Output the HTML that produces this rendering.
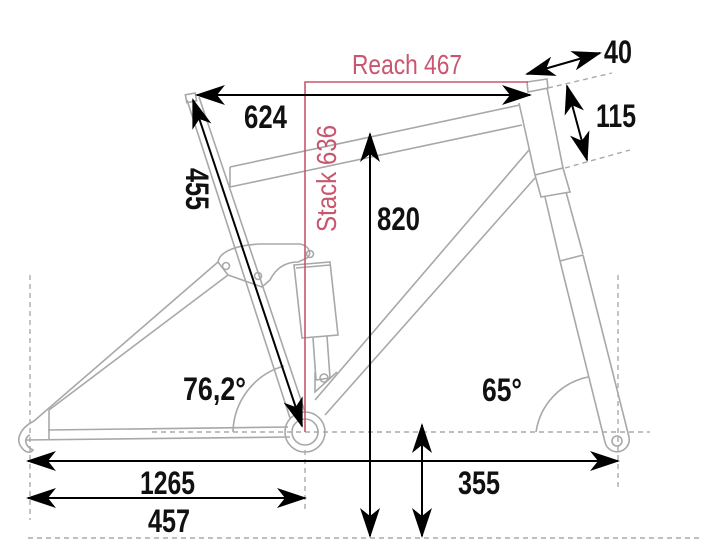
<!DOCTYPE html>
<html><head><meta charset="utf-8"><style>
html,body{margin:0;padding:0;background:#fff;width:712px;height:546px;overflow:hidden}
svg{display:block}
.f{fill:none;stroke:#a8a8a8;stroke-width:1.6}
.d{fill:none;stroke:#aaa;stroke-width:1.4;stroke-dasharray:5,4}
.a{stroke:#000;stroke-width:2;fill:none}
.t{font-family:"Liberation Sans",sans-serif;font-weight:bold;font-size:32px;fill:#111}
.r{font-family:"Liberation Sans",sans-serif;font-size:28px;fill:#c8566e}
</style></head><body>
<svg width="712" height="546" viewBox="0 0 712 546" xmlns="http://www.w3.org/2000/svg">
<defs>
<marker id="m" viewBox="0 0 30 20" refX="28" refY="10" markerWidth="30" markerHeight="20" markerUnits="userSpaceOnUse" orient="auto-start-reverse">
<path d="M0,0 L30,10 L0,20 L8,10 Z" fill="#000"/>
</marker>
</defs>
<line class="d" x1="30" y1="275" x2="30" y2="520"/>
<line class="d" x1="305" y1="450" x2="305" y2="510"/>
<line class="d" x1="618" y1="275" x2="618" y2="490"/>
<line class="d" x1="152" y1="432" x2="650" y2="432"/>
<line class="d" x1="28" y1="538" x2="700" y2="538"/>
<line class="d" x1="548" y1="88" x2="612" y2="73"/>
<line class="d" x1="565" y1="168" x2="630" y2="150"/>
<path class="f" d="M233,432 A70,70 0 0 1 284,366" stroke-width="1.2"/>
<path class="f" d="M536,432 A66,66 0 0 1 588,377" stroke-width="1.2"/>
<g class="f">
<line x1="48" y1="430" x2="288" y2="427"/>
<line x1="26" y1="440" x2="290" y2="437"/>
<line x1="49" y1="410" x2="49" y2="440"/>
<path d="M34,421 C20,428 15,440 22,448 C25,452 30,454 33,450 C25,446 24,440 28,436 L30,435"/>
<line x1="34" y1="421" x2="218" y2="262"/>
<line x1="49" y1="410" x2="228" y2="275"/>
<path d="M218,262 C220,250 240,245 260,244 L300,244 C310,246 312,254 307,258 L298,262 C285,262 276,268 270,280 L262,287 L228,275 Z"/>
<circle cx="226" cy="266" r="3.5"/>
<circle cx="258" cy="276" r="3.5"/>
<circle cx="310" cy="254" r="3.5"/>
<line x1="187" y1="100" x2="290" y2="418"/>
<line x1="199" y1="97" x2="305" y2="412"/>
<rect x="186" y="94" width="10" height="8" transform="rotate(-10 190 98)"/>
<path d="M294,265 L330,262 L338,335 L302,338 Z"/>
<line x1="296" y1="268" x2="330" y2="265"/>
<path d="M313,338 L316,380 L330,378 L327,336"/>
<circle cx="324" cy="378" r="4"/>
<path d="M315,372 L315,392 L337,372"/>
<line x1="230" y1="167" x2="520" y2="105"/>
<line x1="230" y1="187" x2="522" y2="125"/>
<line x1="230" y1="167" x2="230" y2="187"/>
<line x1="315" y1="400" x2="529" y2="150"/>
<line x1="325" y1="415" x2="535" y2="178"/>
<circle cx="305" cy="432" r="20"/>
<circle cx="305" cy="432" r="13"/>
<path d="M527,82 L547,79 L548,88 L528,92 Z"/>
<line x1="519" y1="103" x2="535" y2="175"/>
<line x1="547" y1="88" x2="563" y2="168"/>
<path d="M535,175 L563,168 L570,192 L541,197 Z"/>
<line x1="545" y1="197" x2="560" y2="261"/>
<line x1="566" y1="192" x2="583" y2="254"/>
<line x1="560" y1="261" x2="583" y2="255"/>
<line x1="560" y1="261" x2="605" y2="442"/>
<line x1="583" y1="255" x2="629" y2="437"/>
<path d="M605,442 A12,12 0 0 0 629,437"/>
<circle cx="617" cy="441" r="5"/>
</g>
<polyline points="305,432 305,82 528,82" fill="none" stroke="#c8566e" stroke-width="1.6"/>
<text class="r" x="352" y="74" textLength="110" lengthAdjust="spacingAndGlyphs">Reach 467</text>
<text class="r" transform="translate(336,232) rotate(-90)" textLength="107" lengthAdjust="spacingAndGlyphs">Stack 636</text>
<line class="a" x1="197" y1="95" x2="530" y2="95" marker-start="url(#m)" marker-end="url(#m)"/>
<line class="a" x1="193" y1="100" x2="302" y2="426" marker-start="url(#m)" marker-end="url(#m)"/>
<line class="a" x1="370" y1="134" x2="370" y2="536" marker-start="url(#m)" marker-end="url(#m)"/>
<line class="a" x1="422" y1="425" x2="422" y2="536" marker-start="url(#m)" marker-end="url(#m)"/>
<line class="a" x1="28" y1="461" x2="618" y2="461" marker-start="url(#m)" marker-end="url(#m)"/>
<line class="a" x1="28" y1="498" x2="305" y2="498" marker-start="url(#m)" marker-end="url(#m)"/>
<line class="a" x1="527" y1="74" x2="600" y2="53" marker-start="url(#m)" marker-end="url(#m)"/>
<line class="a" x1="567" y1="86" x2="587" y2="160" marker-start="url(#m)" marker-end="url(#m)"/>
<g class="t">
<text x="244" y="128" textLength="43" lengthAdjust="spacingAndGlyphs">624</text>
<text transform="translate(186,168) rotate(90)" textLength="42" lengthAdjust="spacingAndGlyphs">455</text>
<text x="377" y="230" textLength="43" lengthAdjust="spacingAndGlyphs">820</text>
<text x="604" y="63" textLength="28" lengthAdjust="spacingAndGlyphs">40</text>
<text x="596" y="127" textLength="40" lengthAdjust="spacingAndGlyphs">115</text>
<text x="183" y="400" textLength="63" lengthAdjust="spacingAndGlyphs">76,2°</text>
<text x="482" y="401" textLength="40" lengthAdjust="spacingAndGlyphs">65°</text>
<text x="140" y="494" textLength="55" lengthAdjust="spacingAndGlyphs">1265</text>
<text x="458" y="494" textLength="42" lengthAdjust="spacingAndGlyphs">355</text>
<text x="148" y="532" textLength="42" lengthAdjust="spacingAndGlyphs">457</text>
</g>
</svg>
</body></html>
